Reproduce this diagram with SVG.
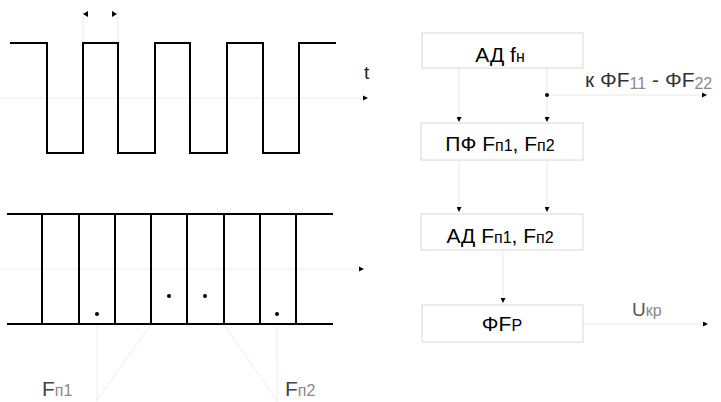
<svg xmlns="http://www.w3.org/2000/svg" width="721" height="402" viewBox="0 0 721 402">
<style>
.wave{fill:none;stroke:#000;stroke-width:2;stroke-linejoin:miter}
.faint{fill:none;stroke:#ededed;stroke-width:1}
.box{fill:#fff;stroke:#d8d8d8;stroke-width:1}
.conn{fill:none;stroke:#e8e8e8;stroke-width:1}
.bt{font-family:"Liberation Sans",Arial,sans-serif;font-size:21px;fill:#000;text-anchor:middle}
.lbl{font-family:"Liberation Sans",Arial,sans-serif;font-size:21px;fill:#444}
.sub{font-size:16px}
.gsub{fill:#888}
</style>
<defs>
<marker id="ah" viewBox="0 0 6 6" refX="6" refY="3" markerWidth="5" markerHeight="5" markerUnits="userSpaceOnUse" orient="auto">
<path d="M0,0 L6,3 L0,6 Z" fill="#000"/>
</marker>
</defs>
<g id="square-wave">
<path class="faint" d="M0,98 H362"/>
<path class="faint" d="M83,10 V43 M118,10 V43"/>
<path d="M88,11 L83,14 L88,17 Z M112,11 L117,14 L112,17 Z" fill="#000"/>
<path class="wave" d="M10,43 H47 V153 H83 V43 H118 V153 H155 V43 H190 V153 H227 V43 H263 V153 H299 V43 H336"/>
<path d="M363,95.5 L368,98 L363,100.5 Z" fill="#000"/>
<text x="364" y="79" style="font-family:'Liberation Sans',Arial,sans-serif;font-size:19px;fill:#222">t</text>
</g>
<g id="spectrum">
<path class="faint" d="M0,269 H359 M97,324 V402 M277,324 V402 M151,324 L97,400 M223,324 L277,400"/>
<path d="M359,266.5 L364,269 L359,271.5 Z" fill="#000"/>
<path class="wave" d="M7,214 H333 M7,324 H333 M42,214 V324 M79,214 V324 M115,214 V324 M151,214 V324 M187,214 V324 M224,214 V324 M260,214 V324 M296,214 V324"/>
<circle cx="97" cy="314" r="2" fill="#000"/>
<circle cx="169" cy="296" r="2" fill="#000"/>
<circle cx="205" cy="296" r="2" fill="#000"/>
<circle cx="277" cy="314" r="2" fill="#000"/>
<text class="lbl" x="42" y="396">F<tspan class="sub gsub">п1</tspan></text>
<text class="lbl" x="285" y="396">F<tspan class="sub gsub">п2</tspan></text>
</g>
<g id="connectors">
<path class="conn" d="M459,68 V122" marker-end="url(#ah)"/>
<path class="conn" d="M547,68 V122" marker-end="url(#ah)"/>
<path class="conn" d="M547,95 H707" marker-end="url(#ah)"/>
<circle cx="547" cy="95" r="2" fill="#000"/>
<path class="conn" d="M459,160 V212" marker-end="url(#ah)"/>
<path class="conn" d="M547,160 V212" marker-end="url(#ah)"/>
<path class="conn" d="M503,250 V303" marker-end="url(#ah)"/>
<path class="conn" d="M583,324 H708" marker-end="url(#ah)"/>
</g>
<g id="node-ad-fn">
<rect class="box" x="422" y="33" width="161" height="35"/>
<text class="bt" x="500" y="62">АД f<tspan class="sub">н</tspan></text>
</g>
<g id="node-pf">
<rect class="box" x="421" y="123" width="162" height="37"/>
<text class="bt" x="500" y="151">ПФ F<tspan class="sub">п1</tspan>, F<tspan class="sub">п2</tspan></text>
</g>
<g id="node-ad-fp">
<rect class="box" x="421" y="214" width="162" height="36"/>
<text class="bt" x="500" y="243">АД F<tspan class="sub">п1</tspan>, F<tspan class="sub">п2</tspan></text>
</g>
<g id="node-ffr">
<rect class="box" x="422" y="305" width="161" height="37"/>
<text class="bt" x="502" y="331">ΦF<tspan class="sub">Р</tspan></text>
</g>
<g id="labels">
<text x="585" y="87" style="font-family:'Liberation Sans',Arial,sans-serif;font-size:21px;fill:#333">к ΦF<tspan class="sub gsub" dy="2">11</tspan><tspan dy="-2"> - ΦF</tspan><tspan class="sub gsub" dy="2">22</tspan></text>
<text x="632" y="316" style="font-family:'Liberation Sans',Arial,sans-serif;font-size:19px;fill:#555">U<tspan class="sub gsub">кр</tspan></text>
</g>
</svg>
